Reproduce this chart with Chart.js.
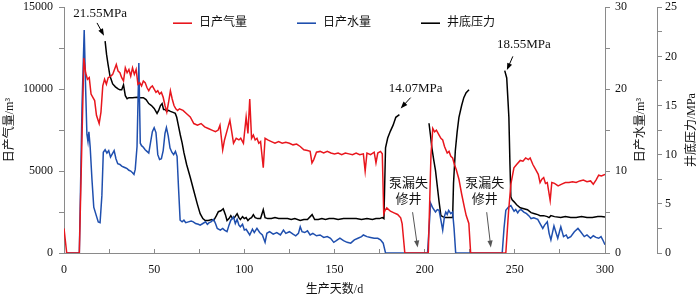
<!DOCTYPE html>
<html>
<head>
<meta charset="utf-8">
<script src="https://cdn.jsdelivr.net/npm/chart.js@4.4.0/dist/chart.umd.min.js"></script>
<style>
  html, body { margin: 0; padding: 0; background: #fff; overflow: hidden; }
  /* canvas is a bit taller so the label padding Chart.js adds at the top falls off-screen */
  #chart { display: block; margin-top: -6px; }
</style>
</head>
<body>
<canvas id="chart" width="700" height="303"></canvas>
<script>
// ---- data ----
const gasDays = [0,1.5,8.5,11,12,13,14,15,16,17,18,19.5,20.5,21.5,22.5,23.5,24.5,26,27,28,29,30,31,32,33,34,35,36,37,38,39,40,41,42,43,44,45,46,47,48,49,50,51,52,53,54,55,56,57,58,59,60,61,62,63,64,66,68,70,72,74,76,78,80,82,84,85.5,86.5,88,89,90.5,92,93,94,95.5,97,98,99.5,101,102,103,104,105,106,107,108,109,110.5,111.5,113,115,117,119,121,123,125,127,129,131,133,135,136.5,137.5,138.5,140,142,144,146,148,150,152,154,156,158,160,162,164,166,167,168,170,172,173,174,175.5,176.5,177.3,178,179,181,183,185,186.7,187.5,189,202,203.5,204.5,205.5,206.5,208,209,210,211,212.5,213.5,214.5,215.5,216.5,217.5,219,220.5,222,223,224.5,225.5,245,246.5,247.8,249.5,251,253,254.5,256,257.5,258.5,260,261.5,263,264,265,266,267,268,269.6,270.5,272,274,276,278,280,282,284,286,288,290,292,293.5,295,296.5,298,300];
const gasVals = [1500,0,0,11900,11000,10600,10700,9700,9500,9300,8400,7900,8600,10200,10600,10300,10700,10800,10900,11200,11500,11100,11000,10700,10500,11300,11000,11200,10800,11300,10900,11200,10300,10400,10200,10500,10400,10100,9900,10100,10200,10000,9800,9900,9700,9800,9500,9000,8600,9200,9900,9400,9000,8800,8700,8800,8700,8500,8300,7900,7800,7900,7700,7600,7500,7400,7500,7800,6300,6900,7500,8100,7400,6700,7000,6900,7000,6700,8300,7300,9400,7000,7200,6900,7000,6700,6800,5200,7000,6900,6800,6700,6800,6700,6750,6700,6600,6650,6500,6300,6250,6200,5500,5700,6150,6200,6100,6200,6100,6050,6100,6000,6100,6050,6000,6100,6000,6050,5000,6100,6000,6150,5500,6100,6200,6050,2400,2600,2750,2550,2450,2350,2150,1800,0,0,6000,7600,7400,7500,7200,7000,6900,6500,6100,6200,5900,5800,5400,5100,4500,3600,2800,2300,1800,0,0,2500,4200,5200,5400,5650,5600,5800,5700,5800,5400,5100,4800,4300,4500,4600,4250,4300,3200,4300,4250,4100,4200,4300,4300,4350,4300,4400,4450,4350,4400,4200,4450,4750,4700,4800];

const waterDays = [1,8.5,10,11.2,12,12.7,13.3,13.8,14.5,15.5,16.5,18,19,20,21,21.8,22.8,23.8,24.8,25.8,26.8,27.8,28.8,29.8,31,32,33,34,35,36,37,38,38.8,39.5,40.5,41.5,42.3,43,44,45,46,47,48,49,50,51,52,53,54,55,56,56.8,57.8,58.8,59.8,60.8,61.8,62.7,63.5,64.4,65.5,66.5,67.5,69,70.5,71.7,73,74.5,75.5,77,78.5,79.5,80.5,81.5,83,84,85,86.7,88,89,90.4,91.5,92.5,94,95,96,97,97.8,99,100,101,103,104.5,105.5,107,108.5,110,111.5,112.5,114,116,118,120,121.7,123,125,127,128.5,130,131,132,133.5,135,136.5,138,140,142,144,146,147.8,149.6,151,153,155,157,159,161,163,165,166,168,170,172,174,175.5,177,178.3,201.6,203.3,204.5,206,207,208,209,210,211,211.7,212.5,213.3,214.5,215.5,216.3,217.2,243,244,245,246.5,247.8,248.8,249.6,250.5,251.6,252.5,253.5,255,256.5,258,259,260.5,262.7,264,265.5,266.5,268,269,270,271,271.7,272.8,273.8,275,275.5,276.5,277,278.5,279.4,281,283,285,286.5,288.5,290,292,293.5,295,296.5,297.8,299,300];
const waterVals = [0,0,18,27.2,20,14.5,13.6,14.8,13,9,5.6,4.5,3.8,3.7,7,12.3,12.6,12.2,12.5,11.7,12.1,12.5,11.5,10.9,10.8,10.6,10.5,10.4,10.3,10.1,10,9.8,9.6,10.2,13,23.2,13.4,13.1,12.9,12.6,12.4,12.2,13.5,14.8,15.3,14.7,12,11.4,11.5,12.5,14.6,15.3,14.3,12.8,12.3,12,12.4,11.8,8,4,3.8,4,3.7,3.8,3.9,3.8,3.6,3.5,3.4,3.6,3.8,3.5,3.7,3.8,4.1,3.6,3,2.8,3,2.8,2.6,3.4,4,4.4,3.6,4.1,3.4,3.2,3.5,2.8,2.9,2.2,2.9,2.5,3,2.5,2.2,1.3,2.4,2.6,2.3,2.5,2.2,2.8,2.4,2.6,2.3,2.1,2.4,3.2,2.6,2.5,2.7,2.2,2.4,2.1,2.2,1.9,2,1.8,1.3,1.5,1.8,1.5,1.3,1.2,1.6,1.8,2,2.2,2,1.9,1.8,1.8,1.6,1.2,0,0,6.1,5.5,5,5.3,5.2,4,2.8,4.5,5,4.7,5.2,4.8,5,3,0,0,3,5.2,5.6,5.8,5.4,5.1,5.3,4.9,5.2,5.3,5,4.8,4.5,4.2,4.3,4.1,3.6,3,3.4,3.8,2.4,1.6,2.6,3.3,2.5,1.8,2.8,3.2,2.4,2,2.2,1.8,2,2.6,3,2.6,2,2.2,1.8,2.1,1.9,1.8,2,1.5,1];

// null = well shut in, no pressure record
const pressDays = [22.8,23.6,24.4,25.5,27,28.5,30,31,32,33,34,35,36,38,40.5,42,44,45.5,47,48.5,50,51.6,52.5,53.5,54.4,55.2,56,57,58,59,60.5,61.7,62.5,63.5,64.5,65.5,66.5,68,70,72,73.9,75.5,77,78.3,80,82,83,84.5,85.6,87,88.3,89.5,90.4,91.5,92.5,93.5,94.5,96,97,97.8,99,100,101,102,103,104,105,106,107.5,109,110.5,111.5,113,115,117,119,121.7,124,126,128,131,133,135,137.6,139,141,143,145,147,149.6,152,155,159,162,165,168,171,173,175,176.5,177.4,178.3,179.5,181,182.5,184,186,194,202.4,203.2,204,205,206,207,208,209,210,211.5,213,214.5,215.5,216,217,218,219,220.5,221.7,223,224.6,235,244.4,245.5,246.2,246.7,247.3,247.8,248.5,249.6,251,253,255,257,259,261,262.7,264,266,268,269,270,272,275.5,278,281,284,287,290,293,296,298,300];
const pressVals = [21.55,20.2,19.2,18,17.2,16.9,16.7,16.6,16.6,17.1,16,15.7,15.8,15.8,15.85,15.8,15.8,15.6,15.2,15,14.7,14.2,14.5,15,15.2,14.6,14.6,14.4,14.5,14.4,14.3,14.2,13.8,12.9,12,11.2,10.2,9,7.7,6.3,5,4,3.5,3.3,3.3,3.4,3.3,3.8,4.2,4.3,4.5,3.9,3.3,3.5,3.8,3.5,3.6,4,3.6,3.4,3.7,3.5,3.6,3.3,3.5,3.6,3.9,3.6,3.5,3.5,4.4,3.6,3.5,3.5,3.6,3.5,3.5,3.5,3.4,3.5,3.3,3.4,3.4,3.9,3.4,3.4,3.5,3.4,3.5,3.5,3.4,3.5,3.5,3.5,3.4,3.5,3.4,3.5,3.5,3.6,3.5,10.7,11.7,12.4,13,13.8,14.07,null,13.2,12,10.7,9.5,8.4,6.8,5.2,3.8,3.7,3.6,3.6,3.6,3.6,7.1,10.4,12.3,13.8,15,15.8,16.3,16.6,null,18.55,17.8,15.5,13.8,9,5.7,5.4,5.2,4.9,4.6,4.5,4.4,4.1,4,3.9,3.8,3.8,3.7,3.6,3.8,3.7,3.6,3.7,3.6,3.6,3.7,3.6,3.6,3.7,3.7,3.65];

const seriesNames = ["日产气量", "日产水量", "井底压力"];
const seriesColors = ["#e8161d", "#1f4fae", "#000000"];

// callouts, anchored in (day, MPa)
const callouts = [
  { lines: ["21.55MPa"], at: [20, 24.4], from: [18.3, 23.4], to: [22.2, 22.1], color: "#000" },
  { lines: ["14.07MPa"], at: [195, 16.7], from: [192.2, 15.8], to: [186.7, 14.7], color: "#000" },
  { lines: ["18.55MPa"], at: [255, 21.15], from: [248.9, 20.0], to: [245.6, 18.6], color: "#000" },
  { lines: ["泵漏失", "修井"], at: [191, 7.05], from: [193.3, 4.15], to: [196.1, 0.55], color: "#555" },
  { lines: ["泵漏失", "修井"], at: [233.3, 7.05], from: [234.4, 4.15], to: [236.7, 0.55], color: "#555" }
];

const SERIF = '"Liberation Serif", "Noto Sans CJK SC", serif';
const AXIS_GREY = "#8a8a8a";

function pts(days, vals) {
  return days.map((d, i) => ({ x: d, y: vals[i] }));
}

function arrow(ctx, x1, y1, x2, y2, color) {
  const a = Math.atan2(y2 - y1, x2 - x1);
  const len = 7, half = 2.6;
  ctx.save();
  ctx.strokeStyle = color;
  ctx.fillStyle = color;
  ctx.lineWidth = 1;
  ctx.beginPath();
  ctx.moveTo(x1, y1);
  ctx.lineTo(x2 - Math.cos(a) * len * 0.8, y2 - Math.sin(a) * len * 0.8);
  ctx.stroke();
  ctx.beginPath();
  ctx.moveTo(x2, y2);
  ctx.lineTo(x2 - Math.cos(a) * len - Math.sin(a) * half, y2 - Math.sin(a) * len + Math.cos(a) * half);
  ctx.lineTo(x2 - Math.cos(a) * len + Math.sin(a) * half, y2 - Math.sin(a) * len - Math.cos(a) * half);
  ctx.closePath();
  ctx.fill();
  ctx.restore();
}

const decor = {
  id: "decor",
  afterDraw(chart) {
    const ctx = chart.ctx;
    const xs = chart.scales.x, ps = chart.scales.yP;
    const area = chart.chartArea;
    const midY = (area.top + area.bottom) / 2;
    const legendY = area.top + 16;

    // legend inside the plot
    const legendX = [173, 297, 421];
    ctx.save();
    ctx.font = "12px " + SERIF;
    ctx.textBaseline = "middle";
    seriesNames.forEach((name, i) => {
      ctx.strokeStyle = seriesColors[i];
      ctx.lineWidth = 1.6;
      ctx.beginPath();
      ctx.moveTo(legendX[i], legendY);
      ctx.lineTo(legendX[i] + 19, legendY);
      ctx.stroke();
      ctx.fillStyle = "#111";
      ctx.fillText(name, legendX[i] + 26, legendY);
    });
    ctx.restore();

    // right-hand axis titles, read bottom to top
    const rightTitles = [
      { text: "日产水量/m³", x: 641 },
      { text: "井底压力/MPa", x: 692 }
    ];
    ctx.save();
    ctx.font = "12px " + SERIF;
    ctx.fillStyle = "#111";
    ctx.textAlign = "center";
    ctx.textBaseline = "middle";
    rightTitles.forEach(t => {
      ctx.save();
      ctx.translate(t.x, midY);
      ctx.rotate(-Math.PI / 2);
      ctx.fillText(t.text, 0, 0);
      ctx.restore();
    });
    ctx.restore();

    // callouts
    ctx.save();
    ctx.font = "13px " + SERIF;
    ctx.textAlign = "center";
    ctx.textBaseline = "middle";
    callouts.forEach(c => {
      const cx = xs.getPixelForValue(c.at[0]);
      const cy = ps.getPixelForValue(c.at[1]);
      ctx.fillStyle = "#111";
      c.lines.forEach((ln, k) => {
        ctx.fillText(ln, cx, cy + k * 16);
      });
      arrow(ctx,
        xs.getPixelForValue(c.from[0]), ps.getPixelForValue(c.from[1]),
        xs.getPixelForValue(c.to[0]), ps.getPixelForValue(c.to[1]), c.color);
    });
    ctx.restore();
  }
};

function tickFont() {
  return { family: SERIF, size: 12 };
}

new Chart(document.getElementById("chart"), {
  type: "line",
  data: {
    datasets: [
      { label: seriesNames[0], data: pts(gasDays, gasVals), yAxisID: "y", borderColor: seriesColors[0] },
      { label: seriesNames[1], data: pts(waterDays, waterVals), yAxisID: "yW", borderColor: seriesColors[1] },
      { label: seriesNames[2], data: pts(pressDays, pressVals), yAxisID: "yP", borderColor: seriesColors[2], spanGaps: false }
    ]
  },
  options: {
    responsive: false,
    animation: false,
    layout: { padding: 0 },
    elements: {
      line: { borderWidth: 1.5, tension: 0, fill: false },
      point: { radius: 0 }
    },
    plugins: {
      legend: { display: false },
      tooltip: { enabled: false }
    },
    scales: {
      x: {
        type: "linear",
        min: 0,
        max: 300,
        position: "bottom",
        ticks: {
          stepSize: 25,
          autoSkip: false,
          maxRotation: 0,
          padding: 14,
          color: "#111",
          font: tickFont(),
          callback: v => (v % 50 === 0 ? String(v) : "")
        },
        grid: { drawOnChartArea: false, tickLength: -4, color: AXIS_GREY },
        border: { color: AXIS_GREY },
        title: { display: true, text: "生产天数/d", color: "#111", font: tickFont(), padding: { top: 0, bottom: 0 } },
        afterFit: s => { s.height = 44; }
      },
      y: {
        position: "left",
        min: 0,
        max: 15000,
        ticks: {
          stepSize: 2500,
          autoSkip: false,
          padding: 6,
          color: "#111",
          font: tickFont(),
          callback: v => (v % 5000 === 0 ? String(v) : "")
        },
        grid: { drawOnChartArea: false, tickLength: 5, color: AXIS_GREY },
        border: { color: AXIS_GREY },
        title: { display: true, text: "日产气量/m³", color: "#111", font: tickFont(), padding: { top: 3, bottom: 0 } },
        afterFit: s => { s.width = 64; }
      },
      yW: {
        position: "right",
        weight: 0,
        min: 0,
        max: 30,
        ticks: {
          stepSize: 5,
          autoSkip: false,
          padding: 5,
          color: "#111",
          font: tickFont(),
          callback: v => (v % 10 === 0 ? String(v) : "")
        },
        grid: { drawOnChartArea: false, tickLength: 5, color: AXIS_GREY },
        border: { color: AXIS_GREY },
        afterFit: s => { s.width = 52; }
      },
      yP: {
        position: "right",
        weight: 1,
        min: 0,
        max: 25,
        ticks: {
          stepSize: 2.5,
          autoSkip: false,
          padding: 3,
          color: "#111",
          font: tickFont(),
          callback: v => (v % 5 === 0 ? String(v) : "")
        },
        grid: { drawOnChartArea: false, tickLength: 5, color: AXIS_GREY },
        border: { color: AXIS_GREY },
        afterFit: s => { s.width = 43; }
      }
    }
  },
  plugins: [decor]
});
</script>
</body>
</html>
